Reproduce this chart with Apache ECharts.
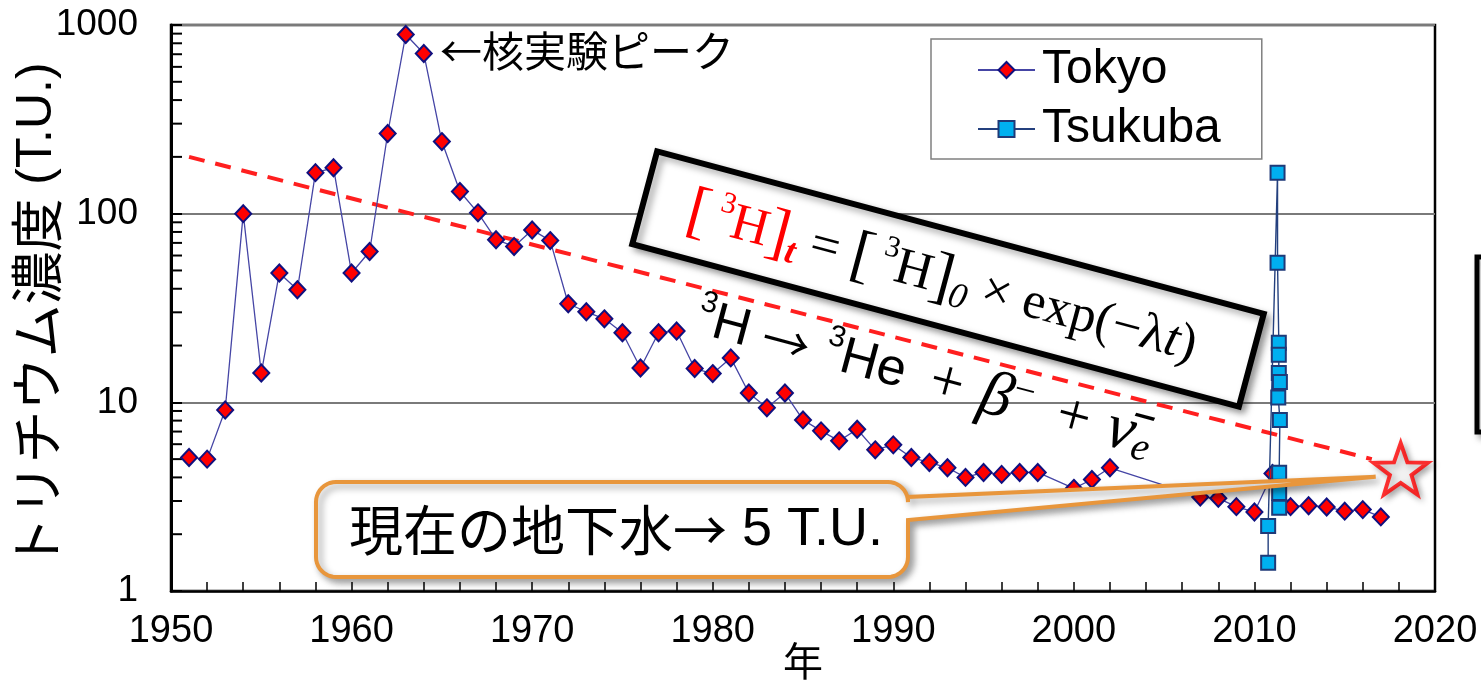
<!DOCTYPE html>
<html>
<head>
<meta charset="utf-8">
<script src="https://cdn.jsdelivr.net/npm/echarts@6/dist/echarts.min.js"></script>
<style>
  html, body { margin: 0; padding: 0; background: #fff; }
  #chart { width: 1481px; height: 689px; }
</style>
</head>
<body>
<div id="chart"></div>
<script>
// Tritium concentration in precipitation / groundwater (T.U.)
const tokyoYears = [1951, 1952, 1953, 1954, 1955, 1956, 1957, 1958, 1959, 1960,
  1961, 1962, 1963, 1964, 1965, 1966, 1967, 1968, 1969, 1970,
  1971, 1972, 1973, 1974, 1975, 1976, 1977, 1978, 1979, 1980,
  1981, 1982, 1983, 1984, 1985, 1986, 1987, 1988, 1989, 1990,
  1991, 1992, 1993, 1994, 1995, 1996, 1997, 1998, 2000, 2001,
  2002, 2007, 2008, 2009, 2010, 2011, 2012, 2013, 2014, 2015,
  2016, 2017];
const tokyoValues = [5.1, 5.0, 9.1, 100, 14.3, 48.5, 39.5, 165, 175, 48.5,
  63, 266, 890, 706, 241, 131, 101, 72.8, 67, 82,
  72, 33.3, 30.2, 27.7, 23.4, 15.2, 23.4, 23.9, 15.1, 14.2,
  17.2, 11.2, 9.35, 11.2, 8.07, 7.06, 6.25, 7.2, 5.6, 5.95,
  5.1, 4.8, 4.5, 4.0, 4.25, 4.15, 4.25, 4.25, 3.5, 3.9,
  4.5, 3.15, 3.1, 2.8, 2.62, 4.2, 2.8, 2.83, 2.79, 2.65,
  2.7, 2.47];

const tsukubaYears = [2010.76, 2010.76, 2011.28, 2011.28, 2011.35, 2011.35, 2011.35,
  2011.41, 2011.32, 2011.41, 2011.37, 2011.37, 2011.37];
const tsukubaValues = [1.41, 2.21, 165, 55, 20.7, 17.9, 14.3,
  12.8, 10.6, 8.07, 4.23, 3.31, 2.76];

// radioactive decay trend (straight on the log scale)
const decayYears = [1951, 2016.5];
const decayValues = [200, 5];

// present groundwater level
const presentYears = [2018.1];
const presentValues = [4.44];

// log-axis minor tick positions
const minorTickValues = [2, 3, 4, 5, 6, 7, 8, 9, 20, 30, 40, 50, 60, 70, 80, 90,
  200, 300, 400, 500, 600, 700, 800, 900];

const xMin = 1950, xMax = 2020, xInterval = 10;
const yMin = 1, yMax = 1000;

const SANS = '"Liberation Sans", Arial, sans-serif';
const SERIF = '"Liberation Serif", "DejaVu Serif", serif';
const CJK = '"Noto Sans CJK JP", "Noto Sans CJK SC", sans-serif';

// condensed digits on the year axis when a narrow face is installed
const measureCtx = document.createElement('canvas').getContext('2d');
measureCtx.font = '46px "Liberation Sans Narrow", monospace';
const narrowW = measureCtx.measureText('1950').width;
measureCtx.font = '46px monospace';
const monoW = measureCtx.measureText('1950').width;
const hasNarrow = Math.abs(narrowW - monoW) > 1;
const yearFont = hasNarrow ? { fontFamily: '"Liberation Sans Narrow"', fontSize: 46 }
                           : { fontFamily: SANS, fontSize: 38 };

const zip = (xs, ys) => xs.map((x, i) => [x, ys[i]]);
const plain = v => String(v);

const starPath = 'path://M50,0 L61.76,33.82 L97.55,34.55 L69.02,56.18 L79.39,90.45 L50,70 L20.61,90.45 L30.98,56.18 L2.45,34.55 L38.24,33.82 Z';

const chart = echarts.init(document.getElementById('chart'), null, { renderer: 'canvas' });

const option = {
  animation: false,
  backgroundColor: '#fff',
  grid: {
    left: 171, right: 46, top: 25, bottom: 98,
    outerBoundsMode: 'none', containLabel: false,
    show: true, borderColor: '#000', borderWidth: 2.5, backgroundColor: 'transparent'
  },
  legend: {
    data: ['Tokyo', 'Tsukuba'],
    orient: 'vertical',
    left: 931, top: 39,
    padding: [7, 41, 6, 46],
    itemWidth: 57, itemHeight: 20, itemGap: 11,
    borderColor: '#808080', borderWidth: 1.5,
    backgroundColor: '#fff',
    textStyle: { fontFamily: SANS, fontSize: 48, color: '#000', padding: [0, 0, 0, 2] }
  },
  xAxis: {
    type: 'value', min: xMin, max: xMax, interval: xInterval,
    name: '年', nameLocation: 'middle', nameGap: 50, nameMoveOverlap: false,
    nameTextStyle: { fontFamily: CJK, fontSize: 40, color: '#000' },
    axisLine: { show: true, lineStyle: { color: '#000', width: 2.5 } },
    axisTick: { show: true, inside: true, length: 9, lineStyle: { color: '#000', width: 1.5 } },
    minorTick: { show: true, splitNumber: 5, length: 9, lineStyle: { color: '#000', width: 1.5 } },
    axisLabel: { color: '#000', margin: 22, formatter: plain, ...yearFont },
    splitLine: { show: false }
  },
  yAxis: {
    type: 'log', logBase: 10, min: yMin, max: yMax,
    axisLine: { show: true, lineStyle: { color: '#000', width: 3 } },
    axisTick: { show: true, inside: true, length: 11, lineStyle: { color: '#000', width: 2 } },
    axisLabel: { color: '#000', fontFamily: SANS, fontSize: 37, margin: 33, formatter: plain },
    splitLine: { show: true, lineStyle: { color: '#7a7a7a', width: 2 } },
    minorTick: { show: false }
  },
  series: [
    {
      name: 'minorTicks', type: 'custom', silent: true, z: 3,
      data: minorTickValues.map(v => [xMin, v]),
      encode: { x: 0, y: 1 },
      renderItem: function (params, api) {
        const p = api.coord([api.value(0), api.value(1)]);
        return {
          type: 'line',
          shape: { x1: p[0], y1: p[1], x2: p[0] + 11, y2: p[1] },
          style: { stroke: '#000', lineWidth: 2 }
        };
      }
    },
    {
      name: 'decay', type: 'line', z: 2,
      data: zip(decayYears, decayValues),
      symbol: 'none',
      lineStyle: { color: '#ff1f1f', width: 4, type: [16, 11] }
    },
    {
      name: 'Tokyo', type: 'line', z: 4,
      data: zip(tokyoYears, tokyoValues),
      symbol: 'diamond', symbolSize: [16, 17],
      itemStyle: { color: '#ff0000', borderColor: '#10107f', borderWidth: 2 },
      lineStyle: { color: '#4545a5', width: 1.3 }
    },
    {
      name: 'Tsukuba', type: 'line', z: 5,
      data: zip(tsukubaYears, tsukubaValues),
      symbol: 'rect', symbolSize: 14,
      itemStyle: { color: '#00b0f0', borderColor: '#1f3a78', borderWidth: 2 },
      lineStyle: { color: '#24407e', width: 1.4 }
    },
    {
      name: 'present', type: 'scatter', z: 20,
      data: zip(presentYears, presentValues),
      symbol: starPath, symbolKeepAspect: true, symbolSize: 54,
      itemStyle: {
        color: '#fff', borderColor: '#ff0000', borderWidth: 4,
        shadowBlur: 6, shadowOffsetX: 3, shadowOffsetY: 3, shadowColor: 'rgba(0,0,0,0.35)'
      }
    }
  ]
};

chart.setOption(option);

// callout outline: rounded box with a pointer towards the present-level star
function calloutPoints(x, y, w, h, r, tip, j0, j1) {
  const pts = [];
  const arc = (cx, cy, a0, a1) => {
    for (let i = 0; i <= 10; i++) {
      const a = a0 + (a1 - a0) * i / 10;
      pts.push([cx + r * Math.cos(a), cy + r * Math.sin(a)]);
    }
  };
  arc(x + r, y + r, Math.PI, 1.5 * Math.PI);
  arc(x + w - r, y + r, 1.5 * Math.PI, 2 * Math.PI);
  pts.push([x + w, j0], tip, [x + w, j1]);
  arc(x + w - r, y + h - r, 0, 0.5 * Math.PI);
  arc(x + r, y + h - r, 0.5 * Math.PI, Math.PI);
  return pts;
}

const starPx = chart.convertToPixel({ seriesName: 'present' }, [presentYears[0], presentValues[0]]);
const tip = [starPx[0] - 25, starPx[1] + 8];

const shadow = { shadowBlur: 7, shadowOffsetX: 4, shadowOffsetY: 4, shadowColor: 'rgba(0,0,0,0.35)' };
const ROT = -15 * Math.PI / 180;

chart.setOption({
  graphic: [
    // y-axis title
    {
      type: 'text', x: 37, y: 316, rotation: Math.PI / 2, z: 30,
      style: {
        text: '{c|トリチウム濃度}{l| (T.U.)}',
        align: 'center', verticalAlign: 'middle',
        rich: {
          c: { fontFamily: CJK, fontSize: 53, fill: '#000' },
          l: { fontFamily: SANS, fontSize: 50, fill: '#000' }
        }
      }
    },
    // peak label
    {
      type: 'text', x: 440, y: 51, z: 30,
      style: { text: '←核実験ピーク', font: '42px ' + CJK, fill: '#000', verticalAlign: 'middle', align: 'left' }
    },
    // decay-law box
    {
      type: 'group', x: 948, y: 279, rotation: ROT, z: 30,
      children: [
        {
          type: 'rect',
          shape: { x: -314, y: -48, width: 628, height: 96 },
          style: { fill: '#fff', stroke: '#000', lineWidth: 6, ...shadow }
        },
        {
          type: 'text', x: -6, y: 2,
          style: {
            text: '{rb|[}{rs|3}{rh|H}{rb|]}{rt|t}{n| = }{b|[}{s|3}{h|H}{b|]}{z|0}{n| × exp(−λ}{i|t}{n|)}',
            align: 'center', verticalAlign: 'middle',
            rich: {
              rb: { fontFamily: SERIF, fontSize: 64, fill: '#ff0000' },
              rs: { fontFamily: SERIF, fontSize: 30, fill: '#ff0000', verticalAlign: 'top', padding: [0, 0, 0, 9] },
              rh: { fontFamily: SERIF, fontSize: 52, fill: '#ff0000' },
              rt: { fontFamily: SERIF, fontSize: 36, fill: '#ff0000', fontStyle: 'italic', fontWeight: 'bold', verticalAlign: 'bottom' },
              n: { fontFamily: SERIF, fontSize: 52, fill: '#000' },
              b: { fontFamily: SERIF, fontSize: 64, fill: '#000' },
              s: { fontFamily: SERIF, fontSize: 30, fill: '#000', verticalAlign: 'top', padding: [0, 0, 0, 9] },
              h: { fontFamily: SERIF, fontSize: 52, fill: '#000' },
              z: { fontFamily: SERIF, fontSize: 36, fill: '#000', fontStyle: 'italic', verticalAlign: 'bottom' },
              i: { fontFamily: SERIF, fontSize: 52, fill: '#000', fontStyle: 'italic' }
            }
          }
        }
      ]
    },
    // decay reaction
    {
      type: 'text', x: 697, y: 318, rotation: ROT, z: 31,
      style: {
        text: '{s|3}{h|H}{a|→}{s|3}{h|He}{p|+}{g|β}{m|−}{p|+}{g|ν̄}{e|e}',
        align: 'left', verticalAlign: 'middle',
        rich: {
          s: { fontFamily: SANS, fontSize: 30, fill: '#000', verticalAlign: 'top' },
          h: { fontFamily: SANS, fontSize: 52, fill: '#000' },
          a: { fontFamily: CJK, fontSize: 48, fill: '#000', padding: [0, 16, 0, 14] },
          p: { fontFamily: SERIF, fontSize: 60, fill: '#000', padding: [0, 18, 0, 26] },
          g: { fontFamily: SERIF, fontSize: 64, fill: '#000', fontStyle: 'italic' },
          m: { fontFamily: SERIF, fontSize: 38, fill: '#000', verticalAlign: 'top' },
          e: { fontFamily: SERIF, fontSize: 40, fill: '#000', fontStyle: 'italic', verticalAlign: 'bottom' }
        }
      }
    },
    // present groundwater callout
    {
      type: 'polygon', z: 25,
      shape: { points: calloutPoints(316, 482, 592, 95, 20, tip, 497, 520) },
      style: { fill: '#fff', stroke: '#e8963c', lineWidth: 4, ...shadow }
    },
    {
      type: 'text', x: 616, y: 530, z: 26,
      style: {
        text: '{c|現在の地下水→}{l| 5 T.U.}',
        align: 'center', verticalAlign: 'middle',
        rich: {
          c: { fontFamily: CJK, fontSize: 54, fill: '#000' },
          l: { fontFamily: SANS, fontSize: 54, fill: '#000' }
        }
      }
    },
    // box partly outside the right edge
    {
      type: 'rect', z: 25,
      shape: { x: 1477, y: 257, width: 40, height: 175 },
      style: { fill: '#fff', stroke: '#000', lineWidth: 5, ...shadow }
    }
  ]
});
</script>
</body>
</html>
